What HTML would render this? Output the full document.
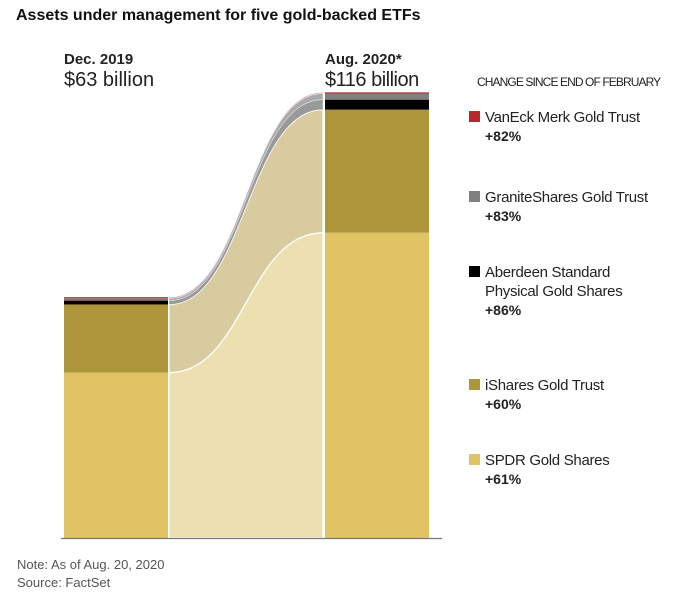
<!DOCTYPE html>
<html><head><meta charset="utf-8"><style>
body{margin:0;background:#fff;font-family:"Liberation Sans",sans-serif;}
#wrap{position:relative;width:688px;height:598px;overflow:hidden;}
.t{position:absolute;white-space:nowrap;color:#222;}
</style></head><body>
<div id="wrap">
<div class="t" style="left:16px;top:7px;font-size:16px;font-weight:bold;color:#111;letter-spacing:0px">Assets under management for five gold-backed ETFs</div>
<div class="t" style="left:64px;top:51px;font-size:15px;font-weight:bold">Dec. 2019</div>
<div class="t" style="left:64px;top:69px;font-size:20px">$63 billion</div>
<div class="t" style="left:325px;top:51px;font-size:15px;font-weight:bold">Aug. 2020*</div>
<div class="t" style="left:325px;top:69px;font-size:20px;letter-spacing:-0.5px">$116 billion</div>
<div class="t" style="left:477px;top:75px;font-size:12px;letter-spacing:-0.9px">CHANGE SINCE END OF FEBRUARY</div>
<svg id="chart" width="688" height="598" style="position:absolute;left:0;top:0"></svg>
<div class="t" style="left:17px;top:557px;font-size:13px;color:#555">Note: As of Aug. 20, 2020</div>
<div class="t" style="left:17px;top:575px;font-size:13px;color:#555">Source: FactSet</div>
</div>
<script>
const categories=["SPDR Gold Shares","iShares Gold Trust","Aberdeen Standard Physical Gold Shares","GraniteShares Gold Trust","VanEck Merk Gold Trust"];
const dec2019=[43.1,17.8,1.0,0.6,0.3];
const aug2020=[79.6,32.1,2.6,1.6,0.3];
const changeLabels=["+61%","+60%","+86%","+83%","+82%"];
const colors=["#e0c464","#ae973a","#000000","#808080","#b5282e"];
const bandColors=["#ede0b0","#d8cba0","#999999","#aaaaaa","#d9a0a0"];
const legendLines=[["SPDR Gold Shares"],["iShares Gold Trust"],["Aberdeen Standard","Physical Gold Shares"],["GraniteShares Gold Trust"],["VanEck Merk Gold Trust"]];
const legendTops=[450,375,262,187,107];
const NS="http://www.w3.org/2000/svg";
const svg=document.getElementById('chart');
const base=538, scale=3.835;
const y=v=>base-v*scale;
const L0=64,L1=168,R0=325,R1=429,B0=169,B1=323;
function mk(t,a){const e=document.createElementNS(NS,t);for(const k in a)e.setAttribute(k,a[k]);svg.appendChild(e);return e;}
let cl=0,cr=0;
for(let i=0;i<categories.length;i++){
  const l0=cl,l1=cl+dec2019[i],r0=cr,r1=cr+aug2020[i];
  const c1=B0+75,c2=B1-75;
  const d=`M${B0},${y(l1)} C${c1},${y(l1)} ${c2},${y(r1)} ${B1},${y(r1)} L${B1},${y(r0)} C${c2},${y(r0)} ${c1},${y(l0)} ${B0},${y(l0)} Z`;
  const band=mk('path',{d:d,fill:bandColors[i],stroke:'#fff','stroke-width':i<2?1.2:0.4});
  
  
  const a=mk('rect',{x:L0,y:y(l1),width:L1-L0,height:dec2019[i]*scale,fill:colors[i]});
  
  
  const b=mk('rect',{x:R0,y:y(r1),width:R1-R0,height:aug2020[i]*scale,fill:colors[i]});
  
  
  cl=l1;cr=r1;
  const sq=mk('rect',{x:469,y:legendTops[i]+4,width:11,height:11,fill:colors[i]});
  
  
  legendLines[i].forEach((ln,j)=>{const t=mk('text',{x:485,y:legendTops[i]+15+j*19,'font-size':15,fill:'#222','font-family':'Liberation Sans, sans-serif','letter-spacing':'-0.3'});t.textContent=ln;
    
    });
  const p=mk('text',{x:485,y:legendTops[i]+15+legendLines[i].length*19,'font-size':14,'font-weight':'bold',fill:'#222','font-family':'Liberation Sans, sans-serif'});
  p.textContent=changeLabels[i];
  
  
}
const ax=mk('line',{x1:61,x2:442,y1:base+0.5,y2:base+0.5,stroke:'#777','stroke-width':1.3});


</script>
</body></html>
